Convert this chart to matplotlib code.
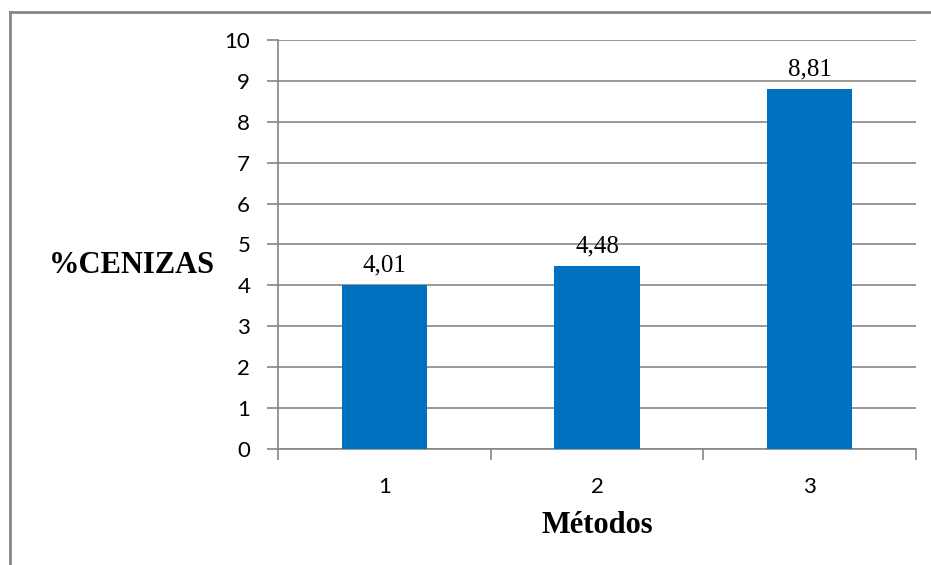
import matplotlib.pyplot as plt
from matplotlib.lines import Line2D

# Ash content per method
metodos = [1, 2, 3]
cenizas = [4.01, 4.48, 8.81]
etiquetas = ["4,01", "4,48", "8,81"]
y_ticks = list(range(0, 11))

gris = "#868686"
azul = "#0070C0"

fig = plt.figure(figsize=(9.31, 5.65), dpi=100)
ax = fig.add_axes([278 / 931, 1 - 449 / 565, (916 - 278) / 931, (449 - 40) / 565])

ax.bar(metodos, cenizas, width=0.4, color=azul, zorder=3)

for x, v, txt in zip(metodos, cenizas, etiquetas):
    ax.text(x, v + 0.2, txt, ha="center", va="bottom",
            family="Liberation Serif", fontsize=18, color="black")

ax.set_xlim(0.5, 3.5)
ax.set_ylim(0, 10)
ax.set_yticks(y_ticks)
ax.set_xticks(metodos)
ax.set_xticks([0.5, 1.5, 2.5, 3.5], minor=True)

# horizontal gridlines, extended left by the outward ticks
ax.yaxis.grid(True, color=gris, linewidth=1.2, zorder=0)
ax.tick_params(axis="y", which="major", length=8, width=1.2, color=gris,
               pad=12, labelsize=16)
ax.tick_params(axis="x", which="major", length=0, pad=20, labelsize=16)
ax.tick_params(axis="x", which="minor", length=8, width=1.2, color=gris)
for lbl in ax.get_xticklabels() + ax.get_yticklabels():
    lbl.set_family("Lato")

for side in ["top", "right"]:
    ax.spines[side].set_visible(False)
for side in ["left", "bottom"]:
    ax.spines[side].set_color(gris)
    ax.spines[side].set_linewidth(1.2)

ax.set_xlabel("Métodos", family="Liberation Serif", fontweight="bold",
              fontsize=22, labelpad=10)
fig.text(132 / 931, 1 - 265 / 565, "%CENIZAS", family="Liberation Serif",
         fontweight="bold", fontsize=22, ha="center", va="center")

# chart frame on top and left edges
fig.add_artist(Line2D([10 / 931, 1], [1 - 12 / 565, 1 - 12 / 565],
                      transform=fig.transFigure, color=gris, linewidth=2))
fig.add_artist(Line2D([10 / 931, 10 / 931], [0, 1 - 12 / 565],
                      transform=fig.transFigure, color=gris, linewidth=2))

plt.savefig("out.png", dpi=100)
